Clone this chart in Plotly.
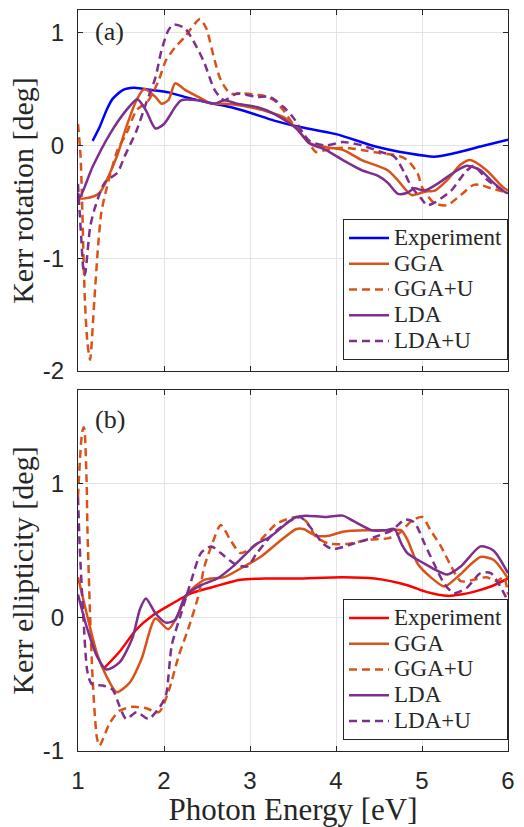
import plotly.graph_objects as go

# ---------------- data ----------------
series_names = ["Experiment", "GGA", "GGA+U", "LDA", "LDA+U"]
panel_labels = ["(a)", "(b)"]
x_title = "Photon Energy [eV]"
y_titles = ["Kerr rotation [deg]", "Kerr ellipticity [deg]"]
x_ticks = [1, 2, 3, 4, 5, 6]
x_ticktext = ["1", "2", "3", "4", "5", "6"]
rot_ticks = [-2, -1, 0, 1]
rot_ticktext = ["-2", "-1", "0", "1"]
ell_ticks = [-1, 0, 1]
ell_ticktext = ["-1", "0", "1"]

# (a) Kerr rotation
rot_exp_x = [1.17, 1.25, 1.33, 1.40, 1.52, 1.65, 1.86, 2.05, 2.24, 2.51, 2.77, 3.0, 3.28, 3.54, 4.0, 4.46, 4.84, 5.14, 5.37, 5.68, 6.0]
rot_exp_y = [0.04, 0.16, 0.31, 0.41, 0.49, 0.51, 0.49, 0.47, 0.43, 0.38, 0.34, 0.29, 0.22, 0.17, 0.1, -0.01, -0.07, -0.1, -0.07, -0.01, 0.05]

rot_gga_x = [1.0, 1.02, 1.15, 1.25, 1.45, 1.56, 1.68, 1.77, 1.9, 1.97, 2.05, 2.13, 2.25, 2.4, 2.55, 2.7, 2.93, 3.16, 3.39, 3.54, 3.69, 3.92, 4.08, 4.3, 4.6, 4.72, 4.88, 5.03, 5.15, 5.29, 5.45, 5.56, 5.75, 5.94, 6.0]
rot_gga_y = [-0.45, -0.47, -0.46, -0.42, -0.1, 0.16, 0.4, 0.5, 0.43, 0.37, 0.4, 0.55, 0.49, 0.43, 0.37, 0.37, 0.35, 0.31, 0.25, 0.15, 0.02, -0.02, -0.04, -0.13, -0.22, -0.31, -0.44, -0.41, -0.4, -0.31, -0.17, -0.13, -0.22, -0.37, -0.4]

rot_ggau_x = [1.0, 1.03, 1.08, 1.11, 1.14, 1.19, 1.23, 1.27, 1.32, 1.46, 1.56, 1.68, 1.82, 1.94, 2.02, 2.13, 2.24, 2.36, 2.42, 2.49, 2.59, 2.66, 2.77, 2.93, 3.16, 3.28, 3.39, 3.5, 3.62, 3.77, 3.88, 4.08, 4.3, 4.53, 4.72, 4.83, 4.95, 5.0, 5.14, 5.29, 5.45, 5.6, 5.68, 5.8, 6.0]
rot_ggau_y = [0.19, -0.1, -1.37, -1.75, -1.9, -1.37, -0.93, -0.6, -0.42, -0.04, 0.1, 0.31, 0.4, 0.58, 0.75, 0.87, 0.96, 1.08, 1.12, 1.04, 0.75, 0.58, 0.46, 0.46, 0.44, 0.4, 0.31, 0.19, 0.1, -0.06, -0.04, -0.02, -0.04, -0.07, -0.09, -0.13, -0.25, -0.37, -0.51, -0.53, -0.44, -0.35, -0.35, -0.38, -0.42]

rot_lda_x = [1.0, 1.02, 1.17, 1.37, 1.56, 1.69, 1.79, 1.9, 2.0, 2.13, 2.2, 2.4, 2.59, 2.7, 2.85, 3.08, 3.28, 3.54, 3.69, 3.88, 4.08, 4.3, 4.49, 4.6, 4.72, 4.83, 4.91, 5.03, 5.2, 5.37, 5.52, 5.68, 5.83, 5.98, 6.0]
rot_lda_y = [-0.42, -0.46, -0.19, 0.1, 0.31, 0.41, 0.31, 0.15, 0.19, 0.34, 0.4, 0.4, 0.37, 0.4, 0.37, 0.34, 0.28, 0.15, 0.02, -0.04, -0.13, -0.22, -0.27, -0.33, -0.43, -0.42, -0.38, -0.4, -0.33, -0.24, -0.18, -0.22, -0.33, -0.42, -0.42]

rot_ldau_x = [1.0, 1.02, 1.04, 1.06, 1.08, 1.14, 1.19, 1.31, 1.46, 1.54, 1.68, 1.79, 1.9, 1.97, 2.05, 2.11, 2.24, 2.36, 2.47, 2.59, 2.7, 2.85, 3.08, 3.23, 3.39, 3.5, 3.69, 3.88, 4.08, 4.3, 4.53, 4.68, 4.8, 4.88, 4.99, 5.06, 5.14, 5.34, 5.49, 5.6, 5.75, 5.9, 6.0]
rot_ldau_y = [-0.34, -0.6, -0.85, -1.08, -1.15, -0.73, -0.57, -0.33, -0.24, -0.1, 0.13, 0.37, 0.6, 0.84, 1.02, 1.07, 1.04, 0.9, 0.73, 0.49, 0.4, 0.46, 0.43, 0.43, 0.34, 0.25, 0.04, 0.0, 0.03, 0.0, -0.06, -0.1, -0.25, -0.37, -0.47, -0.53, -0.51, -0.4, -0.25, -0.18, -0.3, -0.38, -0.42]

# (b) Kerr ellipticity
ell_exp_x = [1.29, 1.48, 1.68, 1.86, 2.09, 2.32, 2.59, 2.89, 3.2, 3.54, 4.08, 4.45, 4.83, 5.05, 5.3, 5.45, 5.6, 5.8, 6.0]
ell_exp_y = [-0.39, -0.26, -0.09, 0.01, 0.1, 0.18, 0.23, 0.28, 0.29, 0.29, 0.3, 0.29, 0.24, 0.19, 0.16, 0.17, 0.19, 0.23, 0.29]

ell_gga_x = [1.0, 1.1, 1.22, 1.33, 1.45, 1.6, 1.74, 1.9, 2.05, 2.17, 2.28, 2.47, 2.7, 2.93, 3.12, 3.31, 3.54, 3.62, 3.77, 3.92, 4.08, 4.38, 4.6, 4.76, 4.83, 4.95, 5.1, 5.26, 5.41, 5.68, 5.83, 6.0]
ell_gga_y = [0.3, 0.03, -0.27, -0.44, -0.56, -0.49, -0.31, -0.01, -0.09, 0.03, 0.18, 0.28, 0.3, 0.38, 0.45, 0.55, 0.66, 0.66, 0.61, 0.61, 0.64, 0.65, 0.65, 0.65, 0.58, 0.4, 0.3, 0.23, 0.3, 0.45, 0.43, 0.29]

ell_ggau_x = [1.0, 1.05, 1.07, 1.1, 1.11, 1.14, 1.17, 1.22, 1.25, 1.37, 1.48, 1.63, 1.79, 1.94, 2.05, 2.17, 2.28, 2.4, 2.47, 2.55, 2.66, 2.77, 2.89, 3.08, 3.31, 3.54, 3.65, 3.77, 3.92, 4.15, 4.38, 4.6, 4.72, 4.88, 5.0, 5.1, 5.22, 5.34, 5.45, 5.6, 5.75, 5.87, 5.95, 6.0]
ell_ggau_y = [0.9, 1.39, 1.42, 1.02, 0.65, 0.03, -0.46, -0.9, -0.96, -0.79, -0.7, -0.67, -0.68, -0.71, -0.56, -0.29, -0.09, 0.16, 0.38, 0.53, 0.69, 0.58, 0.48, 0.55, 0.7, 0.75, 0.72, 0.6, 0.55, 0.55, 0.58, 0.59, 0.62, 0.72, 0.75, 0.65, 0.53, 0.38, 0.27, 0.28, 0.3, 0.27, 0.3, 0.17]

ell_lda_x = [1.0, 1.1, 1.22, 1.33, 1.48, 1.63, 1.72, 1.79, 1.9, 2.02, 2.13, 2.25, 2.43, 2.62, 2.82, 3.08, 3.23, 3.46, 3.54, 3.65, 3.88, 4.08, 4.2, 4.42, 4.57, 4.68, 4.76, 4.83, 5.03, 5.14, 5.29, 5.45, 5.68, 5.83, 6.0]
ell_lda_y = [0.17, -0.07, -0.29, -0.39, -0.34, -0.16, 0.06, 0.14, 0.03, -0.04, -0.02, 0.16, 0.24, 0.29, 0.39, 0.55, 0.6, 0.72, 0.75, 0.76, 0.75, 0.76, 0.72, 0.65, 0.65, 0.66, 0.55, 0.48, 0.4, 0.36, 0.32, 0.38, 0.53, 0.5, 0.33]

ell_ldau_x = [1.0, 1.02, 1.06, 1.11, 1.16, 1.29, 1.4, 1.48, 1.56, 1.68, 1.82, 1.94, 2.02, 2.09, 2.2, 2.32, 2.43, 2.55, 2.66, 2.82, 2.97, 3.08, 3.31, 3.58, 3.73, 3.85, 3.96, 4.2, 4.45, 4.65, 4.8, 4.91, 5.03, 5.14, 5.26, 5.37, 5.52, 5.68, 5.8, 5.91, 6.0]
ell_ldau_y = [0.9, 0.53, 0.03, -0.41, -0.5, -0.51, -0.54, -0.66, -0.76, -0.71, -0.76, -0.68, -0.59, -0.21, 0.03, 0.28, 0.48, 0.53, 0.48, 0.4, 0.38, 0.48, 0.65, 0.75, 0.65, 0.55, 0.51, 0.55, 0.6, 0.65, 0.73, 0.71, 0.55, 0.4, 0.25, 0.18, 0.22, 0.33, 0.33, 0.23, 0.12]

# ---------------- styles ----------------
ORANGE = "#D95319"
PURPLE = "#7E2F8E"
AXC = "#262626"
GRIDC = "#e3e3e3"
DASH = "8px,5px"
SERIF = "Liberation Serif, Times New Roman, serif"
SANS = "Liberation Sans, Arial, sans-serif"
LEG_TEXT_PX = 23

panels = [
    dict(x=[rot_exp_x, rot_gga_x, rot_ggau_x, rot_lda_x, rot_ldau_x],
         y=[rot_exp_y, rot_gga_y, rot_ggau_y, rot_lda_y, rot_ldau_y],
         colors=["#0000FF", ORANGE, ORANGE, PURPLE, PURPLE],
         xa="x", ya="y", legend="legend"),
    dict(x=[ell_exp_x, ell_gga_x, ell_ggau_x, ell_lda_x, ell_ldau_x],
         y=[ell_exp_y, ell_gga_y, ell_ggau_y, ell_lda_y, ell_ldau_y],
         colors=["#FF0000", ORANGE, ORANGE, PURPLE, PURPLE],
         xa="x2", ya="y2", legend="legend2"),
]
dashes = ["solid", "solid", DASH, "solid", DASH]

fig = go.Figure()
for p in panels:
    for i, name in enumerate(series_names):
        fig.add_trace(go.Scatter(
            x=p["x"][i], y=p["y"][i], mode="lines",
            name='<span style="font-size:%dpx">%s</span>' % (LEG_TEXT_PX, name),
            line=dict(color=p["colors"][i], width=2.5, dash=dashes[i],
                      shape="spline", smoothing=0.7),
            xaxis=p["xa"], yaxis=p["ya"], legend=p["legend"],
        ))

W, H = 524, 827
ML, MR, MT, MB = 78, 10, 9, 71
plot_h = H - MT - MB
top_dom = [(756 - 373) / plot_h, 1.0]
bot_dom = [0.0, (756 - 392) / plot_h]

common_x = dict(range=[1, 6], tickvals=x_ticks, ticktext=x_ticktext,
                showgrid=True, gridcolor=GRIDC, gridwidth=1,
                showline=True, linecolor=AXC, linewidth=1.2, mirror="ticks",
                ticks="inside", ticklen=5, tickcolor=AXC, zeroline=False,
                tickfont=dict(family=SANS, size=24, color=AXC))
common_y = dict(showgrid=True, gridcolor=GRIDC, gridwidth=1,
                showline=True, linecolor=AXC, linewidth=1.2, mirror="ticks",
                ticks="inside", ticklen=5, tickcolor=AXC, zeroline=False,
                tickfont=dict(family=SANS, size=24, color=AXC),
                ticklabelstandoff=8)

legend_common = dict(xanchor="right", x=1.0, yanchor="bottom",
                     bgcolor="white", bordercolor=AXC, borderwidth=1,
                     font=dict(family=SERIF, size=17.5, color=AXC),
                     itemwidth=40, tracegroupgap=0)

fig.update_layout(
    width=W, height=H,
    margin=dict(l=ML, r=MR, t=MT, b=MB),
    paper_bgcolor="white", plot_bgcolor="white",
    showlegend=True,
    xaxis=dict(common_x, domain=[0, 1], anchor="y", showticklabels=False),
    yaxis=dict(common_y, domain=top_dom, anchor="x", range=[-2, 1.2],
               tickvals=rot_ticks, ticktext=rot_ticktext,
               title=dict(text=y_titles[0], font=dict(family=SERIF, size=30, color=AXC), standoff=0)),
    xaxis2=dict(common_x, domain=[0, 1], anchor="y2", ticklabelstandoff=8,
                title=dict(text=x_title, font=dict(family=SERIF, size=31, color=AXC), standoff=2)),
    yaxis2=dict(common_y, domain=bot_dom, anchor="x2", range=[-1, 1.7],
                tickvals=ell_ticks, ticktext=ell_ticktext,
                title=dict(text=y_titles[1], font=dict(family=SERIF, size=30, color=AXC), standoff=0)),
    legend=dict(legend_common, y=top_dom[0] + 11 / plot_h),
    legend2=dict(legend_common, y=bot_dom[0] + 11 / plot_h),
    annotations=[
        dict(text=panel_labels[0], xref="x domain", yref="y domain", x=0.035, y=0.94,
             xanchor="left", yanchor="middle", showarrow=False,
             font=dict(family=SERIF, size=26, color=AXC)),
        dict(text=panel_labels[1], xref="x2 domain", yref="y2 domain", x=0.035, y=0.919,
             xanchor="left", yanchor="middle", showarrow=False,
             font=dict(family=SERIF, size=26, color=AXC)),
    ],
)

fig.write_html("out.html")
